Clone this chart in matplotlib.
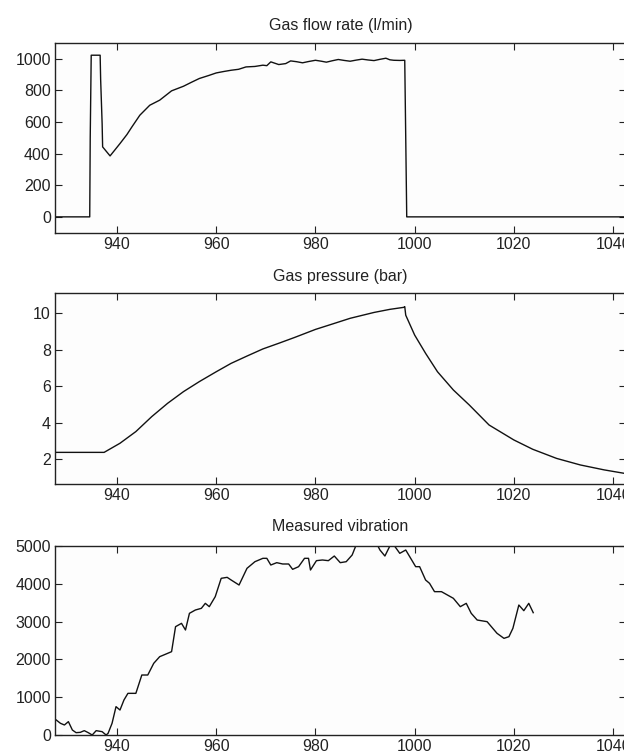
import matplotlib
matplotlib.use("Agg")
import matplotlib.pyplot as plt

plt.rcParams['font.family'] = ['Liberation Sans', 'DejaVu Sans']

# gas flow rate (l/min)
flow_t = [927.5, 934.5, 934.6, 934.8, 936.6, 936.7, 937.0, 937.1, 938.6, 939.5,
          940.6, 942.0, 943.0, 944.6, 946.6, 948.6, 951.0, 953.4, 955.0, 956.6,
          958.5, 960.0, 961.5, 963.0, 964.5, 966.0, 967.8, 969.4, 970.2, 971.0,
          972.6, 974.0, 975.0, 976.2, 977.4, 978.6, 980.0, 981.2, 982.2, 983.4,
          984.6, 985.8, 987.0, 988.2, 989.4, 990.6, 991.8, 993.0, 994.2, 995.0,
          995.8, 997.0, 998.0, 998.2, 998.4, 1042.5]
flow_v = [0, 0, 500, 1021, 1021, 869, 589, 442, 385, 420,
          463, 520, 568, 642, 705, 737, 796, 825, 850, 874,
          893, 909, 918, 926, 932, 947, 950, 958, 955, 979,
          962, 968, 985, 980, 973, 981, 989, 983, 977, 986,
          994, 988, 983, 990, 996, 991, 987, 995, 1002, 992,
          989, 988, 989, 500, 0, 0]

# gas pressure (bar)
pres_t = [927.5, 937.4, 940.6, 943.8, 947.0, 950.2, 953.4, 956.6, 960.0, 963.0,
          966.2, 969.4, 972.6, 975.8, 980.0, 983.8, 987.0, 991.8, 995.0, 997.8,
          998.0, 998.2, 1000.0, 1002.2, 1004.6, 1007.8, 1011.0, 1015.0, 1020.0, 1023.8,
          1028.6, 1033.4, 1038.2, 1042.5]
pres_v = [2.38, 2.38, 2.88, 3.52, 4.34, 5.07, 5.71, 6.26, 6.80, 7.26,
          7.66, 8.05, 8.36, 8.68, 9.12, 9.45, 9.73, 10.05, 10.22, 10.33,
          10.37, 9.9, 8.81, 7.81, 6.80, 5.80, 4.98, 3.88, 3.06, 2.55,
          2.05, 1.69, 1.42, 1.22]

# measured vibration
vib_t = [927.75, 928.6, 929.4, 930.2, 931.0, 931.75, 932.6, 933.4, 934.2, 935.0,
         935.8, 937.0, 937.8, 938.2, 939.0, 939.8, 940.6, 941.4, 942.2, 943.8,
         945.0, 946.2, 947.4, 948.6, 950.2, 951.0, 951.8, 953.0, 953.8, 954.6,
         955.8, 957.0, 957.8, 958.6, 959.8, 961.0, 962.2, 963.0, 964.6, 966.2,
         967.8, 969.4, 970.2, 971.0, 972.2, 973.4, 974.6, 975.4, 976.6, 977.8,
         978.6, 979.0, 980.2, 981.4, 982.6, 983.8, 985.0, 986.2, 987.4, 988.2,
         989.0, 990.5, 992.2, 993.0, 994.0, 995.0, 995.8, 997.0, 998.2, 999.0,
         1000.2, 1001.0, 1002.2, 1003.0, 1004.0, 1005.4, 1006.6, 1007.8, 1009.2, 1010.4,
         1011.4, 1012.6, 1014.6, 1016.6, 1018.0, 1019.0, 1019.8, 1021.0, 1022.0, 1023.0,
         1023.9]
vib_v = [397, 309, 265, 353, 132, 62, 70, 115, 62, 0,
         115, 88, 0, 44, 309, 750, 661, 926, 1102, 1102,
         1587, 1587, 1896, 2072, 2160, 2205, 2866, 2954, 2778, 3219,
         3307, 3351, 3483, 3395, 3660, 4145, 4171, 4101, 3968, 4409,
         4585, 4674, 4674, 4497, 4559, 4524, 4524, 4383, 4453, 4674,
         4674, 4365, 4612, 4630, 4612, 4735, 4559, 4585, 4762, 5026,
         5150, 5200, 5100, 4894, 4735, 5000, 5026, 4806, 4894, 4718,
         4453, 4453, 4101, 4012, 3792, 3792, 3704, 3616, 3395, 3483,
         3219, 3042, 2998, 2690, 2557, 2601, 2822, 3439, 3289, 3483,
         3236]

titles = ["Gas flow rate (l/min)", "Gas pressure (bar)", "Measured vibration"]
ylims = [(-100, 1100), (0.63, 11.1), (0, 5000)]
yticks = [range(0, 1001, 200), range(2, 11, 2), range(0, 5001, 1000)]
xticks = range(940, 1041, 20)
xlim = (927.5, 1042.6)

fig = plt.figure(figsize=(6.24, 7.56), dpi=100)
fig.patch.set_facecolor('white')

W, H = 624, 756
boxes = [(42.7, 232.7), (293.3, 484.3), (546, 735)]
title_pads = [9, 9, 11]
left, right = 55, 626

series = [(flow_t, flow_v), (pres_t, pres_v), (vib_t, vib_v)]

for i, (top, bot) in enumerate(boxes):
    ax = fig.add_axes([left / W, 1 - bot / H, (right - left) / W, (bot - top) / H])
    ax.set_facecolor('#fdfdfd')
    t, v = series[i]
    ax.plot(t, v, color='#111111', lw=1.0)
    ax.set_xlim(*xlim)
    ax.set_ylim(*ylims[i])
    ax.set_xticks(list(xticks))
    ax.set_yticks(list(yticks[i]))
    ax.tick_params(direction='in', length=5, width=0.8, top=True, right=True,
                   labelsize=11.5, pad=3, colors='#222222')
    for s in ax.spines.values():
        s.set_linewidth(1.0)
        s.set_color('#222222')
    ax.set_title(titles[i], fontsize=11.5, pad=title_pads[i], color='#222222')

fig.savefig("out.png", dpi=100)
